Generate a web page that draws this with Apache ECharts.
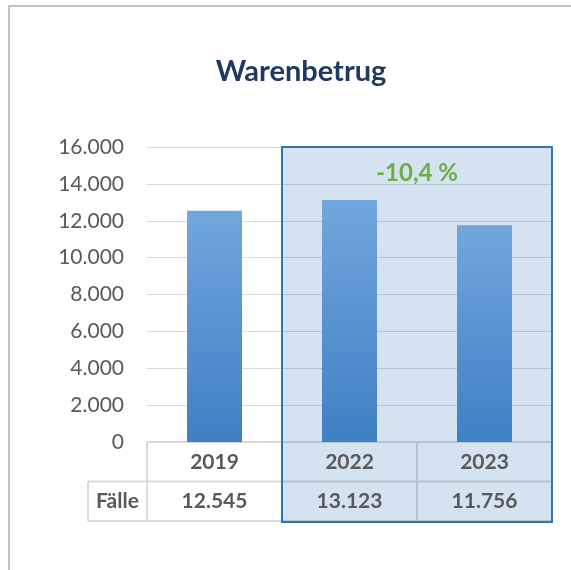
<!DOCTYPE html>
<html>
<head>
<meta charset="utf-8">
<script src="https://cdn.jsdelivr.net/npm/echarts@6/dist/echarts.min.js"></script>
<style>
  html, body { margin: 0; padding: 0; background: #fff; }
  #main { width: 571px; height: 570px; }
</style>
</head>
<body>
<div id="main"></div>
<script>
// data
var titleText = 'Warenbetrug';
var categories = ['2019', '2022', '2023'];
var values = [12545, 13123, 11756];
var rowLabel = 'Fälle';
var yMin = 0, yMax = 16000, yStep = 2000;

function fmtDe(v) {
    return String(v).replace(/\B(?=(\d{3})+(?!\d))/g, '.');
}

var change = (values[2] - values[1]) / values[1] * 100;
var changeText = change.toFixed(1).replace('.', ',') + ' %';

var FONT = 'Lato';
var GREY_TXT = '#595959';
var GRID_LINE = '#d9d9d9';

var chart = echarts.init(document.getElementById('main'));

chart.setOption({
    animation: false,
    backgroundColor: '#fff',
    grid: { left: 147, right: 19, top: 147, bottom: 128 },
    xAxis: {
        type: 'category',
        data: categories,
        axisLine: { show: false },
        axisTick: { show: false },
        axisLabel: { show: false }
    },
    yAxis: {
        type: 'value',
        min: yMin, max: yMax, interval: yStep,
        axisLine: { show: false },
        axisTick: { show: false },
        axisLabel: {
            margin: 23,
            color: GREY_TXT,
            fontFamily: FONT,
            fontSize: 21,
            formatter: fmtDe
        },
        splitLine: { lineStyle: { color: GRID_LINE, width: 1 } }
    },
    series: [{
        type: 'bar',
        data: values,
        barWidth: 55,
        z: 5,
        itemStyle: {
            color: new echarts.graphic.LinearGradient(0, 0, 0, 1, [
                { offset: 0, color: '#71a7dd' },
                { offset: 1, color: '#3f80c3' }
            ]),
            shadowBlur: 7,
            shadowColor: 'rgba(0,0,0,0.35)',
            shadowOffsetX: 1,
            shadowOffsetY: 1
        }
    }]
});

function drawExtras() {
    var x0 = chart.convertToPixel({ xAxisIndex: 0 }, categories[0]);
    var x1 = chart.convertToPixel({ xAxisIndex: 0 }, categories[1]);
    var x2 = chart.convertToPixel({ xAxisIndex: 0 }, categories[2]);
    var band = x1 - x0;
    var yBase = chart.convertToPixel({ yAxisIndex: 0 }, yMin);
    var yTop = chart.convertToPixel({ yAxisIndex: 0 }, yMax);
    var rowH = 39.5;
    var left = x0 - band / 2;
    var right = x2 + band / 2;
    var labelLeft = left - 59;
    var xs = [x0, x1, x2];

    var els = [];
    // outer frame
    els.push({ type: 'polyline', z: 0, shape: { points: [[9, 570], [9, 6], [571, 6]] },
        style: { stroke: '#c3c3c3', lineWidth: 2, fill: null } });

    // table grid
    var lineStyle = { stroke: GRID_LINE, lineWidth: 2 };
    var hLines = [
        [left, yBase, right, yBase],
        [labelLeft, yBase + rowH, right, yBase + rowH],
        [labelLeft, yBase + 2 * rowH, right, yBase + 2 * rowH]
    ];
    hLines.forEach(function (l) {
        els.push({ type: 'line', z: 0, shape: { x1: l[0], y1: l[1], x2: l[2], y2: l[3] }, style: lineStyle });
    });
    var vx = [left, left + band, left + 2 * band];
    vx.forEach(function (x) {
        els.push({ type: 'line', z: 0, shape: { x1: x, y1: yBase, x2: x, y2: yBase + 2 * rowH }, style: lineStyle });
    });
    els.push({ type: 'line', z: 0, shape: { x1: labelLeft, y1: yBase + rowH, x2: labelLeft, y2: yBase + 2 * rowH }, style: lineStyle });

    // highlight box over 2022-2023
    var bx = x1 - band / 2;
    els.push({ type: 'rect', z: 1,
        shape: { x: bx, y: yTop, width: right - bx, height: yBase + 2 * rowH - yTop + 1 },
        style: { fill: 'rgba(46,117,182,0.2)', stroke: '#2e75b6', lineWidth: 2 } });

    // table texts
    var txt = function (x, y, s) {
        return { type: 'text', z: 10, x: x, y: y,
            style: { text: s, fill: GREY_TXT, font: 'bold 21px ' + FONT, textAlign: 'center', textVerticalAlign: 'middle' } };
    };
    xs.forEach(function (x, i) {
        els.push(txt(x, yBase + rowH / 2, categories[i]));
        els.push(txt(x, yBase + rowH * 1.5, fmtDe(values[i])));
    });
    els.push(txt((labelLeft + left) / 2, yBase + rowH * 1.5, rowLabel));

    // change label
    els.push({ type: 'text', z: 10, x: (x1 + x2) / 2,
        y: chart.convertToPixel({ yAxisIndex: 0 }, 14600),
        style: { text: changeText, fill: '#70ad47', font: 'bold 24px ' + FONT, textAlign: 'center', textVerticalAlign: 'middle' } });

    // title
    els.push({ type: 'text', z: 10, x: 301, y: 72,
        style: { text: titleText, fill: '#1f3864', font: 'bold 29px ' + FONT, textAlign: 'center', textVerticalAlign: 'middle' } });

    chart.setOption({ graphic: els });
}

drawExtras();
</script>
</body>
</html>
